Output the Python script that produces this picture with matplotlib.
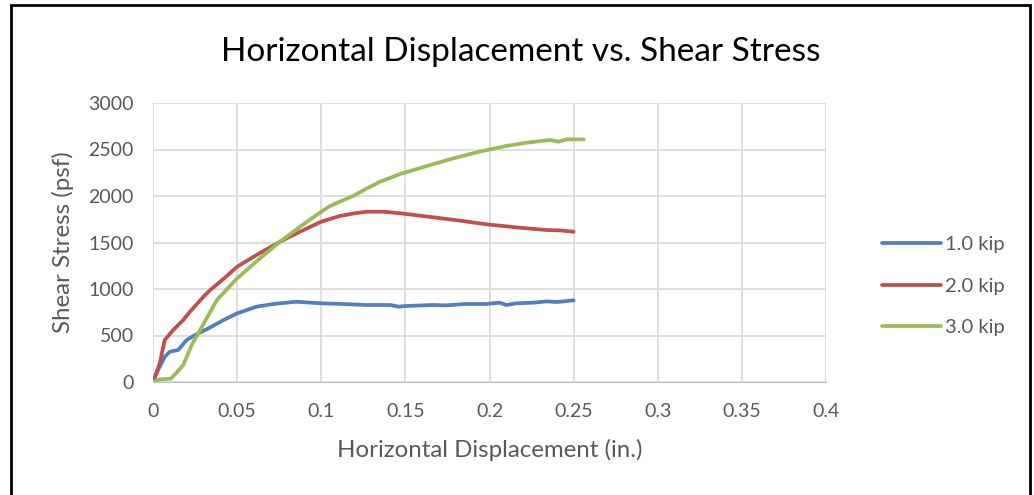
import matplotlib
matplotlib.use("Agg")
import matplotlib.pyplot as plt
from matplotlib.patches import Rectangle

# 1.0 kip
x1 = [0, 0.003, 0.007, 0.010, 0.015, 0.020, 0.025, 0.033, 0.042, 0.050, 0.0616,
      0.072, 0.085, 0.100, 0.111, 0.127, 0.141, 0.146, 0.150, 0.166, 0.174,
      0.186, 0.198, 0.206, 0.210, 0.216, 0.226, 0.234, 0.240, 0.250]
y1 = [0, 129, 272, 326, 344, 452, 505, 577, 667, 738, 810,
      840, 863, 846, 840, 828, 828, 810, 817, 828, 824,
      839, 839, 853, 828, 846, 853, 867, 860, 878]

# 2.0 kip
x2 = [0, 0.004, 0.007, 0.012, 0.018, 0.022, 0.030, 0.034, 0.042, 0.050, 0.0616,
      0.0755, 0.0874, 0.100, 0.111, 0.120, 0.127, 0.137, 0.147, 0.1665, 0.1825,
      0.198, 0.218, 0.234, 0.242, 0.250]
y2 = [0, 201, 452, 559, 667, 756, 917, 989, 1110, 1240, 1366,
      1509, 1616, 1724, 1785, 1815, 1831, 1831, 1814, 1771, 1735,
      1696, 1659, 1634, 1630, 1616]

# 3.0 kip
x3 = [0, 0.004, 0.0105, 0.014, 0.018, 0.023, 0.028, 0.038, 0.050, 0.0636, 0.0755,
      0.0874, 0.100, 0.105, 0.111, 0.119, 0.127, 0.135, 0.147, 0.163, 0.1785,
      0.194, 0.210, 0.222, 0.236, 0.241, 0.246, 0.256]
y3 = [0, 29, 35, 100, 183, 398, 559, 882, 1115, 1330, 1509,
      1670, 1831, 1890, 1939, 2000, 2080, 2154, 2237, 2323, 2405,
      2477, 2538, 2573, 2602, 2584, 2609, 2609]

labels = ["1.0 kip", "2.0 kip", "3.0 kip"]
colors = ["#4F81BD", "#C0504D", "#9BBB59"]

plt.rcParams['font.family'] = ['Lato', 'DejaVu Sans']

fig = plt.figure(figsize=(10.34, 4.95), dpi=100)
ax = fig.add_axes([153/1034, 1-382/495, 673/1034, 279/495])

for xs, ys, lab, c in zip([x1, x2, x3], [y1, y2, y3], labels, colors):
    ax.plot(xs, ys, color=c, lw=2.7, label=lab, solid_capstyle='round')

ax.set_xlim(0, 0.4)
ax.set_ylim(0, 3000)
ax.set_xticks([0, 0.05, 0.1, 0.15, 0.2, 0.25, 0.3, 0.35, 0.4])
ax.set_xticklabels(["0", "0.05", "0.1", "0.15", "0.2", "0.25", "0.3", "0.35", "0.4"])
ax.set_yticks(range(0, 3001, 500))
ax.grid(True, color="#D9D9D9", lw=1.2)
ax.set_axisbelow(True)
for s in ["top", "right", "left"]:
    ax.spines[s].set_visible(False)
ax.spines["bottom"].set_color("#BFBFBF")
ax.tick_params(length=0, labelsize=14, colors="#595959")
ax.tick_params(axis="y", pad=14)
ax.tick_params(axis="x", pad=15)

ax.set_xlabel("Horizontal Displacement (in.)", fontsize=17.3, color="#595959", labelpad=14)
ax.set_ylabel("Shear Stress (psf)", fontsize=17.3, color="#595959", labelpad=10)
fig.text(521/1034, 1-52/495, "Horizontal Displacement vs. Shear Stress",
         ha="center", va="center", fontsize=24, color="#000000")

ax.legend(loc="center left", bbox_to_anchor=(1.057, 0.344), frameon=False,
          fontsize=14.5, labelcolor="#595959", handlelength=2.9,
          handletextpad=0.2, labelspacing=1.2)

fig.patches.append(Rectangle((11/1034, -0.1), 1019/1034, 1.1 - 5/495,
                             transform=fig.transFigure, fill=False,
                             edgecolor="black", lw=2))

fig.savefig("out.png", dpi=100)
